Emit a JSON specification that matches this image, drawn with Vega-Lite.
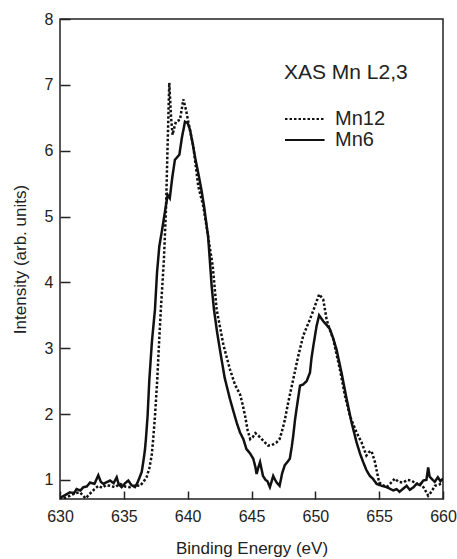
{
  "$schema": "https://vega.github.io/schema/vega-lite/v6.json",
  "autosize": {"type": "none"},
  "padding": {"left": 60, "top": 19, "right": 14, "bottom": 60},
  "width": 383,
  "height": 480,
  "background": "white",
  "config": {
    "font": "Liberation Sans",
    "view": {"stroke": "#222", "strokeWidth": 1.5},
    "axis": {"grid": false, "domain": false, "tickColor": "#222", "tickWidth": 1.5, "labelColor": "#222", "titleColor": "#222", "labelFontSize": 16, "titleFontSize": 17, "titleFontWeight": "normal"}
  },
  "data": {"values": [
    {"series":"Mn6","energy":630.0,"intensity":0.72},{"series":"Mn6","energy":630.13,"intensity":0.74},{"series":"Mn6","energy":630.5,"intensity":0.78},{"series":"Mn6","energy":630.78,"intensity":0.81},{"series":"Mn6","energy":631.1,"intensity":0.8},{"series":"Mn6","energy":631.3,"intensity":0.86},{"series":"Mn6","energy":631.6,"intensity":0.84},{"series":"Mn6","energy":631.83,"intensity":0.89},{"series":"Mn6","energy":632.1,"intensity":0.9},{"series":"Mn6","energy":632.35,"intensity":0.96},{"series":"Mn6","energy":632.7,"intensity":0.94},{"series":"Mn6","energy":633.0,"intensity":1.07},{"series":"Mn6","energy":633.2,"intensity":0.97},{"series":"Mn6","energy":633.4,"intensity":0.94},{"series":"Mn6","energy":633.7,"intensity":0.97},{"series":"Mn6","energy":633.92,"intensity":0.99},{"series":"Mn6","energy":634.2,"intensity":0.95},{"series":"Mn6","energy":634.44,"intensity":1.04},{"series":"Mn6","energy":634.6,"intensity":0.93},{"series":"Mn6","energy":634.83,"intensity":0.89},{"series":"Mn6","energy":635.1,"intensity":0.95},{"series":"Mn6","energy":635.35,"intensity":0.99},{"series":"Mn6","energy":635.6,"intensity":0.92},{"series":"Mn6","energy":635.87,"intensity":0.89},{"series":"Mn6","energy":636.05,"intensity":0.95},{"series":"Mn6","energy":636.2,"intensity":1.02},{"series":"Mn6","energy":636.4,"intensity":1.12},{"series":"Mn6","energy":636.52,"intensity":1.27},{"series":"Mn6","energy":636.65,"intensity":1.45},{"series":"Mn6","energy":636.73,"intensity":1.62},{"series":"Mn6","energy":636.86,"intensity":1.97},{"series":"Mn6","energy":637.0,"intensity":2.53},{"series":"Mn6","energy":637.2,"intensity":3.1},{"series":"Mn6","energy":637.44,"intensity":3.59},{"series":"Mn6","energy":637.6,"intensity":4.15},{"series":"Mn6","energy":637.78,"intensity":4.55},{"series":"Mn6","energy":638.0,"intensity":4.8},{"series":"Mn6","energy":638.2,"intensity":5.05},{"series":"Mn6","energy":638.43,"intensity":5.33},{"series":"Mn6","energy":638.6,"intensity":5.28},{"series":"Mn6","energy":638.8,"intensity":5.6},{"series":"Mn6","energy":639.0,"intensity":5.86},{"series":"Mn6","energy":639.35,"intensity":5.94},{"series":"Mn6","energy":639.55,"intensity":6.2},{"series":"Mn6","energy":639.79,"intensity":6.44},{"series":"Mn6","energy":640.0,"intensity":6.42},{"series":"Mn6","energy":640.18,"intensity":6.32},{"series":"Mn6","energy":640.4,"intensity":6.1},{"series":"Mn6","energy":640.57,"intensity":5.91},{"series":"Mn6","energy":640.9,"intensity":5.59},{"series":"Mn6","energy":641.1,"intensity":5.38},{"series":"Mn6","energy":641.28,"intensity":5.16},{"series":"Mn6","energy":641.6,"intensity":4.7},{"series":"Mn6","energy":641.75,"intensity":4.3},{"series":"Mn6","energy":641.88,"intensity":3.94},{"series":"Mn6","energy":642.06,"intensity":3.59},{"series":"Mn6","energy":642.3,"intensity":3.25},{"series":"Mn6","energy":642.55,"intensity":2.95},{"series":"Mn6","energy":642.9,"intensity":2.55},{"series":"Mn6","energy":643.31,"intensity":2.23},{"series":"Mn6","energy":643.6,"intensity":2.03},{"series":"Mn6","energy":643.84,"intensity":1.87},{"series":"Mn6","energy":644.1,"intensity":1.72},{"series":"Mn6","energy":644.36,"intensity":1.62},{"series":"Mn6","energy":644.6,"intensity":1.47},{"series":"Mn6","energy":644.9,"intensity":1.4},{"series":"Mn6","energy":645.14,"intensity":1.32},{"series":"Mn6","energy":645.3,"intensity":1.2},{"series":"Mn6","energy":645.4,"intensity":1.09},{"series":"Mn6","energy":645.55,"intensity":1.2},{"series":"Mn6","energy":645.67,"intensity":1.27},{"series":"Mn6","energy":645.9,"intensity":1.06},{"series":"Mn6","energy":646.1,"intensity":1.0},{"series":"Mn6","energy":646.25,"intensity":0.98},{"series":"Mn6","energy":646.44,"intensity":0.89},{"series":"Mn6","energy":646.55,"intensity":0.96},{"series":"Mn6","energy":646.7,"intensity":1.06},{"series":"Mn6","energy":646.85,"intensity":1.0},{"series":"Mn6","energy":646.97,"intensity":0.96},{"series":"Mn6","energy":647.2,"intensity":0.91},{"series":"Mn6","energy":647.4,"intensity":1.1},{"series":"Mn6","energy":647.6,"intensity":1.22},{"series":"Mn6","energy":648.0,"intensity":1.32},{"series":"Mn6","energy":648.15,"intensity":1.5},{"series":"Mn6","energy":648.27,"intensity":1.67},{"series":"Mn6","energy":648.4,"intensity":1.9},{"series":"Mn6","energy":648.53,"intensity":2.08},{"series":"Mn6","energy":648.8,"intensity":2.43},{"series":"Mn6","energy":649.05,"intensity":2.45},{"series":"Mn6","energy":649.32,"intensity":2.5},{"series":"Mn6","energy":649.58,"intensity":2.63},{"series":"Mn6","energy":649.7,"intensity":2.85},{"series":"Mn6","energy":649.84,"intensity":3.03},{"series":"Mn6","energy":650.1,"intensity":3.34},{"series":"Mn6","energy":650.3,"intensity":3.5},{"series":"Mn6","energy":650.62,"intensity":3.41},{"series":"Mn6","energy":650.9,"intensity":3.35},{"series":"Mn6","energy":651.14,"intensity":3.29},{"series":"Mn6","energy":651.4,"intensity":3.15},{"series":"Mn6","energy":651.66,"intensity":2.98},{"series":"Mn6","energy":652.05,"intensity":2.63},{"series":"Mn6","energy":652.45,"intensity":2.23},{"series":"Mn6","energy":652.84,"intensity":1.87},{"series":"Mn6","energy":653.23,"intensity":1.57},{"series":"Mn6","energy":653.5,"intensity":1.4},{"series":"Mn6","energy":653.75,"intensity":1.27},{"series":"Mn6","energy":654.0,"intensity":1.15},{"series":"Mn6","energy":654.27,"intensity":1.06},{"series":"Mn6","energy":654.5,"intensity":1.02},{"series":"Mn6","energy":654.8,"intensity":0.94},{"series":"Mn6","energy":655.2,"intensity":0.91},{"series":"Mn6","energy":655.58,"intensity":0.89},{"series":"Mn6","energy":655.9,"intensity":0.86},{"series":"Mn6","energy":656.1,"intensity":0.84},{"series":"Mn6","energy":656.36,"intensity":0.86},{"series":"Mn6","energy":656.6,"intensity":0.82},{"series":"Mn6","energy":656.9,"intensity":0.87},{"series":"Mn6","energy":657.15,"intensity":0.91},{"series":"Mn6","energy":657.4,"intensity":0.85},{"series":"Mn6","energy":657.7,"intensity":0.89},{"series":"Mn6","energy":657.93,"intensity":0.94},{"series":"Mn6","energy":658.2,"intensity":0.92},{"series":"Mn6","energy":658.45,"intensity":0.99},{"series":"Mn6","energy":658.7,"intensity":1.0},{"series":"Mn6","energy":658.84,"intensity":1.19},{"series":"Mn6","energy":658.95,"intensity":1.05},{"series":"Mn6","energy":659.1,"intensity":1.02},{"series":"Mn6","energy":659.35,"intensity":0.97},{"series":"Mn6","energy":659.6,"intensity":1.04},{"series":"Mn6","energy":659.8,"intensity":0.98},{"series":"Mn6","energy":660.0,"intensity":1.02},
    {"series":"Mn12","energy":630.3,"intensity":0.72},{"series":"Mn12","energy":630.8,"intensity":0.76},{"series":"Mn12","energy":631.2,"intensity":0.8},{"series":"Mn12","energy":631.57,"intensity":0.81},{"series":"Mn12","energy":632.0,"intensity":0.72},{"series":"Mn12","energy":632.35,"intensity":0.79},{"series":"Mn12","energy":632.7,"intensity":0.86},{"series":"Mn12","energy":633.0,"intensity":0.91},{"series":"Mn12","energy":633.3,"intensity":0.88},{"series":"Mn12","energy":633.6,"intensity":0.92},{"series":"Mn12","energy":633.92,"intensity":0.91},{"series":"Mn12","energy":634.3,"intensity":0.89},{"series":"Mn12","energy":634.7,"intensity":0.94},{"series":"Mn12","energy":635.1,"intensity":0.9},{"series":"Mn12","energy":635.48,"intensity":0.89},{"series":"Mn12","energy":635.9,"intensity":0.92},{"series":"Mn12","energy":636.26,"intensity":0.91},{"series":"Mn12","energy":636.5,"intensity":0.96},{"series":"Mn12","energy":636.78,"intensity":1.04},{"series":"Mn12","energy":637.0,"intensity":1.18},{"series":"Mn12","energy":637.18,"intensity":1.37},{"series":"Mn12","energy":637.3,"intensity":1.62},{"series":"Mn12","energy":637.44,"intensity":1.97},{"series":"Mn12","energy":637.62,"intensity":2.53},{"series":"Mn12","energy":637.75,"intensity":3.05},{"series":"Mn12","energy":637.9,"intensity":3.59},{"series":"Mn12","energy":638.14,"intensity":4.35},{"series":"Mn12","energy":638.3,"intensity":5.1},{"series":"Mn12","energy":638.4,"intensity":5.86},{"series":"Mn12","energy":638.5,"intensity":6.6},{"series":"Mn12","energy":638.56,"intensity":7.03},{"series":"Mn12","energy":638.7,"intensity":6.5},{"series":"Mn12","energy":638.82,"intensity":6.24},{"series":"Mn12","energy":638.95,"intensity":6.35},{"series":"Mn12","energy":639.08,"intensity":6.44},{"series":"Mn12","energy":639.4,"intensity":6.47},{"series":"Mn12","energy":639.66,"intensity":6.78},{"series":"Mn12","energy":639.87,"intensity":6.62},{"series":"Mn12","energy":640.12,"intensity":6.37},{"series":"Mn12","energy":640.44,"intensity":6.07},{"series":"Mn12","energy":640.83,"intensity":5.46},{"series":"Mn12","energy":641.22,"intensity":5.16},{"series":"Mn12","energy":641.6,"intensity":4.7},{"series":"Mn12","energy":641.96,"intensity":4.25},{"series":"Mn12","energy":642.27,"intensity":3.59},{"series":"Mn12","energy":642.8,"intensity":3.05},{"series":"Mn12","energy":643.31,"intensity":2.68},{"series":"Mn12","energy":643.7,"intensity":2.45},{"series":"Mn12","energy":644.1,"intensity":2.3},{"series":"Mn12","energy":644.3,"intensity":2.15},{"series":"Mn12","energy":644.5,"intensity":1.97},{"series":"Mn12","energy":644.7,"intensity":1.75},{"series":"Mn12","energy":644.9,"intensity":1.62},{"series":"Mn12","energy":645.1,"intensity":1.65},{"series":"Mn12","energy":645.3,"intensity":1.71},{"series":"Mn12","energy":645.55,"intensity":1.67},{"series":"Mn12","energy":645.8,"intensity":1.62},{"series":"Mn12","energy":646.05,"intensity":1.57},{"series":"Mn12","energy":646.3,"intensity":1.52},{"series":"Mn12","energy":646.6,"intensity":1.53},{"series":"Mn12","energy":646.97,"intensity":1.57},{"series":"Mn12","energy":647.2,"intensity":1.62},{"series":"Mn12","energy":647.36,"intensity":1.72},{"series":"Mn12","energy":647.6,"intensity":1.9},{"series":"Mn12","energy":647.88,"intensity":2.18},{"series":"Mn12","energy":648.27,"intensity":2.53},{"series":"Mn12","energy":648.66,"intensity":2.88},{"series":"Mn12","energy":649.05,"intensity":3.19},{"series":"Mn12","energy":649.58,"intensity":3.44},{"series":"Mn12","energy":649.97,"intensity":3.64},{"series":"Mn12","energy":650.3,"intensity":3.82},{"series":"Mn12","energy":650.62,"intensity":3.74},{"series":"Mn12","energy":650.88,"intensity":3.44},{"series":"Mn12","energy":651.1,"intensity":3.3},{"series":"Mn12","energy":651.4,"intensity":3.14},{"series":"Mn12","energy":651.92,"intensity":2.68},{"series":"Mn12","energy":652.32,"intensity":2.28},{"series":"Mn12","energy":652.71,"intensity":1.97},{"series":"Mn12","energy":653.23,"intensity":1.72},{"series":"Mn12","energy":653.62,"intensity":1.57},{"series":"Mn12","energy":654.0,"intensity":1.37},{"series":"Mn12","energy":654.2,"intensity":1.42},{"series":"Mn12","energy":654.4,"intensity":1.44},{"series":"Mn12","energy":654.67,"intensity":1.27},{"series":"Mn12","energy":654.85,"intensity":1.1},{"series":"Mn12","energy":655.0,"intensity":0.96},{"series":"Mn12","energy":655.3,"intensity":0.92},{"series":"Mn12","energy":655.58,"intensity":0.89},{"series":"Mn12","energy":655.9,"intensity":0.95},{"series":"Mn12","energy":656.23,"intensity":1.02},{"series":"Mn12","energy":656.5,"intensity":0.97},{"series":"Mn12","energy":656.88,"intensity":0.96},{"series":"Mn12","energy":657.2,"intensity":1.0},{"series":"Mn12","energy":657.54,"intensity":0.99},{"series":"Mn12","energy":657.9,"intensity":0.94},{"series":"Mn12","energy":658.2,"intensity":0.96},{"series":"Mn12","energy":658.5,"intensity":0.88},{"series":"Mn12","energy":658.84,"intensity":0.76},{"series":"Mn12","energy":659.1,"intensity":0.82},{"series":"Mn12","energy":659.36,"intensity":0.91},{"series":"Mn12","energy":659.7,"intensity":0.93},{"series":"Mn12","energy":660.0,"intensity":0.96}
  ]},
  "mark": {"type": "line", "clip": true, "color": "#111", "strokeWidth": 2.5},
  "encoding": {
    "x": {"field": "energy", "type": "quantitative", "title": "Binding Energy (eV)",
      "scale": {"domain": [630, 660], "nice": false, "zero": false},
      "axis": {"values": [630, 635, 640, 645, 650, 655, 660], "offset": -8, "tickSize": 8, "labelPadding": 9, "titlePadding": 16, "labelFlush": false}},
    "y": {"field": "intensity", "type": "quantitative", "title": "Intensity (arb. units)",
      "scale": {"domain": [0.71, 8], "nice": false, "zero": false},
      "axis": {"values": [1, 2, 3, 4, 5, 6, 7, 8], "offset": -10, "tickSize": 10, "labelPadding": 7, "titlePadding": 15, "labelFlush": false}},
    "strokeDash": {"field": "series", "type": "nominal",
      "scale": {"domain": ["Mn12", "Mn6"], "range": [[2.5, 2], [1, 0]]},
      "legend": {"title": "XAS Mn L2,3", "orient": "none", "legendX": 224, "legendY": 43,
        "titleFontSize": 21, "titleFontWeight": "normal", "titleColor": "#222", "titlePadding": 26,
        "labelFontSize": 20, "labelColor": "#222", "labelOffset": 31,
        "symbolType": "M-1,0H3.4", "symbolSize": 324, "symbolStrokeWidth": 2, "symbolStrokeColor": "#111", "symbolFillColor": "transparent", "rowPadding": 1}},
    "order": {"field": "energy", "type": "quantitative"}
  }
}
